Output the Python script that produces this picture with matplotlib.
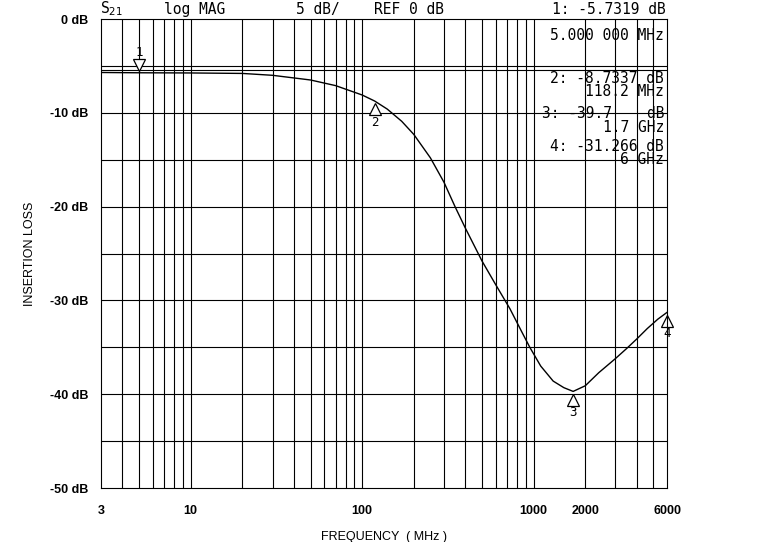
import numpy as np
import matplotlib
matplotlib.use("Agg")
import matplotlib.pyplot as plt

freq = [3, 5, 10, 20, 30, 50, 70, 100, 118.2, 140, 170, 200, 250, 300, 348, 400, 500, 600, 728, 850, 950,
        1100, 1300, 1500, 1700, 2000, 2400, 3000, 3500, 4000, 4600, 5300, 6000]
loss = [-5.7, -5.73, -5.75, -5.8, -6.0, -6.5, -7.1, -8.1, -8.74, -9.6, -10.9, -12.3, -14.8, -17.4, -20, -22.3,
        -25.8, -28.3, -30.9, -33.3, -35, -37, -38.6, -39.3, -39.7, -39.1, -37.7, -36.2, -35.1, -34.1, -33.0, -32.0, -31.27]
mk_f = [5, 118.2, 1700, 6000]
mk_v = [-5.7319, -8.7337, -39.7, -31.266]
xticks = [3, 10, 100, 1000, 2000, 6000]
yticks = [0, -10, -20, -30, -40, -50]

fig = plt.figure(figsize=(7.79, 5.42), dpi=100)
ax = fig.add_axes([0.1297, 0.0996, 0.7266, 0.8653])
ax.set_xscale('log')
ax.set_xlim(3, 6000)
ax.set_ylim(-50, 0)

grid_x = [v * d for d in (1, 10, 100, 1000) for v in range(1, 10) if 3 < v * d < 6000]
for g in grid_x:
    ax.axvline(g, color='black', lw=0.8)
for h in range(-45, 0, 5):
    ax.axhline(h, color='black', lw=0.8)
ax.axhline(-5.4, color='black', lw=0.8)

ax.plot(freq, loss, color='black', lw=1.0)

for i, (f, v) in enumerate(zip(mk_f, mk_v)):
    if i == 0:
        ax.plot(f, v + 0.8, marker='v', ms=9, mfc='white', mec='black', mew=0.9)
        ax.text(f, v + 2.2, str(i + 1), ha='center', va='center', fontsize=9, family='DejaVu Sans Mono')
    else:
        ax.plot(f, v - 0.9, marker='^', ms=9, mfc='white', mec='black', mew=0.9, clip_on=False)
        ax.text(f, v - 2.3, str(i + 1), ha='center', va='center', fontsize=9, family='DejaVu Sans Mono')

ax.set_xticks(xticks)
ax.set_xticklabels([str(t) for t in xticks], fontsize=9, fontweight='bold', family='Liberation Sans')
ax.set_yticks(yticks)
ax.set_yticklabels([f"{t} dB" for t in yticks], fontsize=9, fontweight='bold', family='Liberation Sans')
ax.minorticks_off()
ax.tick_params(axis='x', length=0, pad=12)
ax.tick_params(axis='y', length=0, pad=9)
ax.set_xlabel('FREQUENCY  ( MHz )', fontsize=9, family='Liberation Sans', labelpad=10)
ax.set_ylabel('INSERTION LOSS', fontsize=9, family='Liberation Sans', labelpad=10)

mono = dict(family='DejaVu Sans Mono', fontsize=10.5, transform=fig.transFigure)
fig.text(0.128, 0.975, 'S$_{21}$', **mono)
fig.text(0.21, 0.975, 'log MAG', **mono)
fig.text(0.38, 0.975, '5 dB/', **mono)
fig.text(0.48, 0.975, 'REF 0 dB', **mono)
fig.text(0.855, 0.975, '1: -5.7319 dB', ha='right', **mono)
tx = dict(family='DejaVu Sans Mono', fontsize=10.5, ha='right', va='top', transform=ax.transAxes)
ax.text(0.995, 0.98, '5.000 000 MHz', **tx)
ax.text(0.995, 0.89, '2: -8.7337 dB\n118.2 MHz', linespacing=0.9, **tx)
ax.text(0.995, 0.815, '3: -39.7    dB\n1.7 GHz', linespacing=0.9, **tx)
ax.text(0.995, 0.745, '4: -31.266 dB\n6 GHz', linespacing=0.9, **tx)

fig.savefig('out.png', dpi=100)
